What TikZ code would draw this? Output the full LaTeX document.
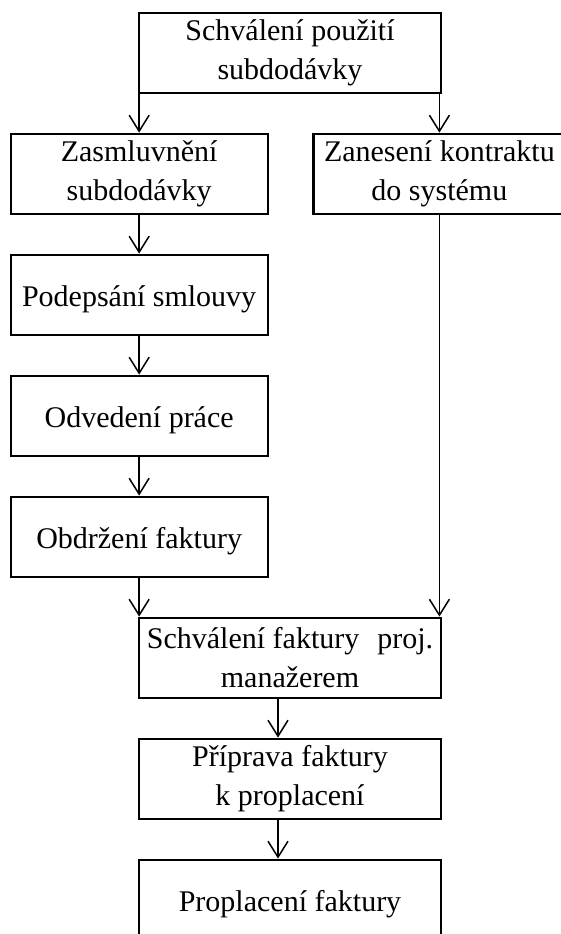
\documentclass[tikz,border=0pt]{standalone}
\usepackage{fontspec}
\setmainfont{Liberation Serif}
\usetikzlibrary{arrows.meta}

\begin{document}
\begin{tikzpicture}[
  x=1pt, y=-1pt,
  stepbox/.style={draw, line width=2.2pt, inner sep=0pt, align=center,
    minimum height=80pt,
    font=\fontsize{30}{39}\selectfont,
    execute at begin node={\rule{0pt}{30.5pt}}},
  narrowbox/.style={stepbox, minimum width=257pt},
  widebox/.style={stepbox, minimum width=302pt},
  conn/.style={line width=1.5pt,
    -{Straight Barb[length=16pt,width=20pt,line width=1.5pt]}},
]
\useasboundingbox (0,0) rectangle (561,934);
\clip (0,0) rectangle (561,934);

% process steps
\node[widebox]   (b1) at (290,52.7)     {Schválení použití\\subdodávky};
\node[narrowbox] (b2) at (139.15,173.7) {Zasmluvnění\\subdodávky};
\node[stepbox, minimum width=252pt] (b3) at (439.4,173.7) {Zanesení kontraktu\\do systému};
\node[narrowbox] (b4) at (139.15,294.7) {Podepsání smlouvy};
\node[narrowbox] (b5) at (139.15,415.7) {Odvedení práce};
\node[narrowbox] (b6) at (139.15,536.7) {Obdržení faktury};
\node[widebox]   (b7) at (290,657.7)    {Schválení faktury\hspace{18pt}proj.\\manažerem};
\node[widebox]   (b8) at (290,778.7)    {Příprava faktury\\k proplacení};
\node[widebox]   (b9) at (290,899.7)    {Proplacení faktury};

% connectors
\draw[conn] (b2.north |- b1.south) -- (b2.north);
\draw[conn] (b3.north |- b1.south) -- (b3.north);
\draw[conn] (b2) -- (b4);
\draw[conn] (b4) -- (b5);
\draw[conn] (b5) -- (b6);
\draw[conn] (b6.south) -- (b6.south |- b7.north);
\draw[conn] (b3.south) -- (b3.south |- b7.north);
\draw[conn] ([xshift=-12pt]b7.south) -- ([xshift=-12pt]b8.north);
\draw[conn] ([xshift=-12pt]b8.south) -- ([xshift=-12pt]b9.north);
\end{tikzpicture}
\end{document}
